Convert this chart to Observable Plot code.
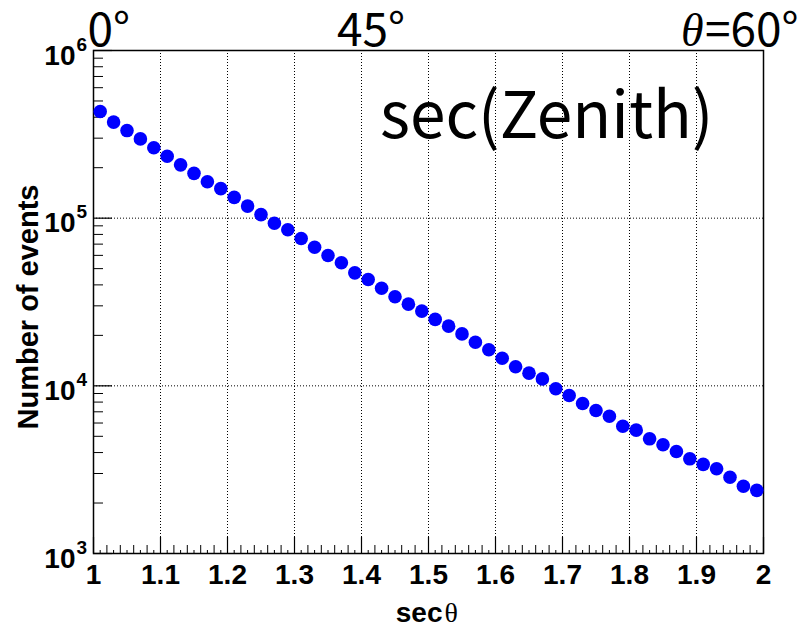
<!DOCTYPE html>
<html>
<head>
<meta charset="utf-8">
<script src="https://cdn.jsdelivr.net/npm/d3@7"></script>
<script src="https://cdn.jsdelivr.net/npm/@observablehq/plot@0.6"></script>
<style>
  html, body { margin: 0; padding: 0; background: #fff; }
</style>
</head>
<body>
<div id="chart"></div>
<script>
// ---- data ----
const secTheta = [1.01, 1.03, 1.05, 1.07, 1.09, 1.11, 1.13, 1.15, 1.17, 1.19,
                  1.21, 1.23, 1.25, 1.27, 1.29, 1.31, 1.33, 1.35, 1.37, 1.39,
                  1.41, 1.43, 1.45, 1.47, 1.49, 1.51, 1.53, 1.55, 1.57, 1.59,
                  1.61, 1.63, 1.65, 1.67, 1.69, 1.71, 1.73, 1.75, 1.77, 1.79,
                  1.81, 1.83, 1.85, 1.87, 1.89, 1.91, 1.93, 1.95, 1.97, 1.99];
const events = [433000, 374000, 333000, 297000, 263000, 234000, 208000, 185000, 165000, 150000,
                133000, 118000, 105000, 93300, 85300, 75600, 67100, 59900, 54200, 47200,
                43100, 38200, 34000, 30700, 27900, 24900, 22700, 20400, 18200, 16400,
                14600, 13000, 11900, 11000, 9600, 8760, 7850, 7130, 6590, 5740,
                5440, 4830, 4450, 4060, 3670, 3400, 3200, 2850, 2520, 2380];

const xTickValues = [1, 1.1, 1.2, 1.3, 1.4, 1.5, 1.6, 1.7, 1.8, 1.9, 2];
const xTickLabels = ["1", "1.1", "1.2", "1.3", "1.4", "1.5", "1.6", "1.7", "1.8", "1.9", "2"];
const xGridValues = [1.1, 1.2, 1.3, 1.4, 1.5, 1.6, 1.7, 1.8, 1.9];
const yTickValues = [1e3, 1e4, 1e5, 1e6];
const yTickExponents = ["3", "4", "5", "6"];
const yGridValues = [1e4, 1e5];
const angle0Label = ["0°"];
const angle0Sec = [1];
const angle45Label = ["45°"];
const angle45Sec = [1.41421];
const angle60Sec = [2];
const angle60Symbol = ["θ"];
const angle60Text = ["=60°"];
const titleText = ["sec(Zenith)"];
const yTitle = ["Number of events"];
const xTitleMain = ["sec"];
const xTitleSymbol = ["θ"];

// minor tick positions
const xMinor = d3.range(1, 101).map(i => 1 + i * 0.01).filter((v, i) => (i + 1) % 10 !== 0);
const xMinor2 = xMinor.filter((v, i) => ((i % 9) + 1) % 2 === 0);
const xMinor1 = xMinor.filter((v, i) => ((i % 9) + 1) % 2 === 1);
const yMinor = [1e3, 1e4, 1e5].flatMap(d => [2, 3, 4, 5, 6, 7, 8, 9].map(k => k * d));

const W = 806, H = 629;
const mL = 93, mR = 43, mT = 50, mB = 76;
const frameW = W - mL - mR, frameH = H - mT - mB;

const data = secTheta.map((x, i) => ({x, y: events[i]}));

const serifFont = "'Liberation Serif', 'DejaVu Serif', serif";
const sansBold = "'Liberation Sans', Arial, sans-serif";
const jpFont = "'Noto Sans CJK JP', 'Noto Sans', sans-serif";

const topText = {frameAnchor: "top", lineAnchor: "bottom", dy: -5, fontSize: 46,
  fontWeight: "normal", fontFamily: jpFont, fill: "#000"};

const chart = Plot.plot({
  width: W,
  height: H,
  marginLeft: mL,
  marginRight: mR,
  marginTop: mT,
  marginBottom: mB,
  style: {background: "#fff", color: "#000", fontFamily: sansBold, overflow: "visible"},
  x: {domain: [1, 2], axis: null},
  y: {type: "log", domain: [1e3, 1e6], axis: null},
  marks: [
    // grid
    Plot.ruleX(xGridValues, {x: d => d, stroke: "#000", strokeWidth: 1, strokeDasharray: "1,2"}),
    Plot.ruleY(yGridValues, {y: d => d, stroke: "#000", strokeWidth: 1, strokeDasharray: "1,2"}),
    // x ticks (inward)
    Plot.tickX(xTickValues, {x: d => d, insetTop: frameH - 16, stroke: "#000", strokeWidth: 1.2}),
    Plot.tickX(xMinor2, {x: d => d, insetTop: frameH - 8, stroke: "#000", strokeWidth: 1}),
    Plot.tickX(xMinor1, {x: d => d, insetTop: frameH - 3, stroke: "#000", strokeWidth: 1}),
    // y ticks (inward)
    Plot.tickY(yTickValues, {y: d => d, insetRight: frameW - 19, stroke: "#000", strokeWidth: 1.2}),
    Plot.tickY(yMinor, {y: d => d, insetRight: frameW - 10, stroke: "#000", strokeWidth: 1}),
    Plot.frame({stroke: "#000", strokeWidth: 1.5}),
    // data
    Plot.dot(data, {x: "x", y: "y", r: 6.8, fill: "#0000ff", stroke: "none"}),
    // x tick labels
    Plot.text(xTickValues, {x: d => d, text: (d, i) => xTickLabels[i], frameAnchor: "bottom",
      lineAnchor: "bottom", dy: 30, fontSize: 28, fontWeight: "bold", fontFamily: sansBold, fill: "#000"}),
    // y tick labels: "10" + exponent
    Plot.text(yTickValues, {y: d => d, text: () => "10", frameAnchor: "left", textAnchor: "end",
      lineAnchor: "bottom", dx: -18, dy: 14, fontSize: 28, fontWeight: "bold", fontFamily: sansBold, fill: "#000"}),
    Plot.text(yTickValues, {y: d => d, text: (d, i) => yTickExponents[i], frameAnchor: "left", textAnchor: "start",
      lineAnchor: "bottom", dx: -17, dy: 0, fontSize: 19, fontWeight: "bold", fontFamily: sansBold, fill: "#000"}),
    // axis titles
    Plot.text(yTitle, {text: d => d, frameAnchor: "left", rotate: -90, textAnchor: "middle",
      lineAnchor: "bottom", dx: -56, dy: 5, fontSize: 29, fontWeight: "bold", fontFamily: sansBold, fill: "#000"}),
    Plot.text(xTitleMain, {x: () => 1.5, text: d => d, frameAnchor: "bottom", textAnchor: "end",
      lineAnchor: "bottom", dx: 14, dy: 68, fontSize: 28, fontWeight: "bold", fontFamily: sansBold, fill: "#000"}),
    Plot.text(xTitleSymbol, {x: () => 1.5, text: d => d, frameAnchor: "bottom", textAnchor: "start",
      lineAnchor: "bottom", dx: 16, dy: 68, fontSize: 28, fontWeight: "normal", fontFamily: serifFont, fill: "#000"}),
    // angle annotations on top
    Plot.text(angle0Label, {...topText, x: (d, i) => angle0Sec[i], text: d => d, textAnchor: "start", dx: -6}),
    Plot.text(angle45Label, {...topText, x: (d, i) => angle45Sec[i], text: d => d, textAnchor: "middle", dx: 0}),
    Plot.text(angle60Text, {...topText, x: (d, i) => angle60Sec[i], text: d => d, textAnchor: "end", dx: 35}),
    Plot.text(angle60Symbol, {...topText, x: (d, i) => angle60Sec[i], text: d => d, textAnchor: "end", dx: -60,
      fontSize: 46, fontStyle: "italic", fontFamily: serifFont}),
    // big title
    Plot.text(titleText, {text: d => d, frameAnchor: "top-right", textAnchor: "end",
      lineAnchor: "bottom", dx: -50, dy: 87, fontSize: 64, fontWeight: "normal", fontFamily: jpFont, fill: "#000"})
  ]
});

document.getElementById("chart").appendChild(chart);
</script>
</body>
</html>
